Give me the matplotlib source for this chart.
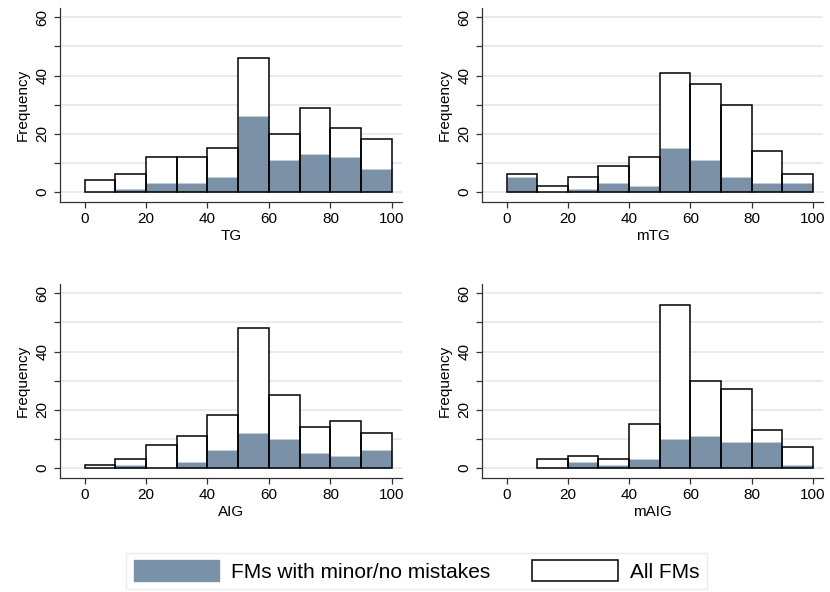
import matplotlib
matplotlib.use("Agg")
import matplotlib.pyplot as plt
import numpy as np
from matplotlib.patches import Patch

plt.rcParams['font.family'] = ['Liberation Sans', 'DejaVu Sans']

bin_left = [0, 10, 20, 30, 40, 50, 60, 70, 80, 90]

panels = ["TG", "mTG", "AIG", "mAIG"]

all_tg = [4, 6, 12, 12, 15, 46, 20, 29, 22, 18]
minor_tg = [0, 1, 3, 3, 5, 26, 11, 13, 12, 8]

all_mtg = [6, 2, 5, 9, 12, 41, 37, 30, 14, 6]
minor_mtg = [5, 0, 1, 3, 2, 15, 11, 5, 3, 3]

all_aig = [1, 3, 8, 11, 18, 48, 25, 14, 16, 12]
minor_aig = [0, 1, 0, 2, 6, 12, 10, 5, 4, 6]

all_maig = [0, 3, 4, 3, 15, 56, 30, 27, 13, 7]
minor_maig = [0, 0, 2, 1, 3, 10, 11, 9, 9, 1]

all_counts = [all_tg, all_mtg, all_aig, all_maig]
minor_counts = [minor_tg, minor_mtg, minor_aig, minor_maig]

fill_col = '#7b91a7'

fig = plt.figure(figsize=(8.3, 5.92), dpi=100)

boxes = [
    [0.0723, 0.6588, 0.412, 0.328],
    [0.5807, 0.6588, 0.411, 0.328],
    [0.0723, 0.1926, 0.412, 0.328],
    [0.5807, 0.1926, 0.411, 0.328],
]


def nonzero(xs, ys):
    # skip empty bins so no flat line is drawn at zero
    pairs = [(x, y) for x, y in zip(xs, ys) if y > 0]
    return [p[0] for p in pairs], [p[1] for p in pairs]


for box, name, tot, sub in zip(boxes, panels, all_counts, minor_counts):
    ax = fig.add_axes(box)
    tx, ty = nonzero(bin_left, tot)
    sx, sy = nonzero(bin_left, sub)
    ax.bar(tx, ty, width=10, align='edge', color='white', linewidth=0, zorder=2)
    ax.bar(sx, sy, width=10, align='edge', color=fill_col,
           edgecolor='#c3ced9', linewidth=0.6, zorder=3)
    ax.bar(tx, ty, width=10, align='edge', fill=False,
           edgecolor='black', linewidth=1.1, zorder=4)

    ax.set_xlim(-8, 103.3)
    ax.set_ylim(-3.5, 63.3)
    ax.set_xticks([0, 20, 40, 60, 80, 100])
    ax.set_yticks(np.arange(0, 61, 10))
    ax.set_yticklabels(['0', '', '20', '', '40', '', '60'], rotation=90, va='center')
    ax.yaxis.grid(True, color='#e6e6e6', linewidth=1.2, zorder=0)
    ax.set_axisbelow(True)
    ax.tick_params(labelsize=11, length=4, color='#333333', width=0.9)
    for s in ['top', 'right']:
        ax.spines[s].set_visible(False)
    for s in ['left', 'bottom']:
        ax.spines[s].set_color('#333333')
        ax.spines[s].set_linewidth(0.9)
    ax.set_xlabel(name, fontsize=11, labelpad=2)
    ax.set_ylabel('Frequency', fontsize=11, labelpad=4)

handles = [
    Patch(facecolor=fill_col, edgecolor=fill_col, label='FMs with minor/no mistakes'),
    Patch(facecolor='white', edgecolor='black', linewidth=1.1, label='All FMs'),
]
fig.legend(handles=handles, loc='center', bbox_to_anchor=(0.502, 0.0355), ncol=2,
           fontsize=15, frameon=True, fancybox=False, edgecolor='#e8e8e8',
           handlelength=4.1, handleheight=1.15, columnspacing=2.0, handletextpad=0.6,
           borderpad=0.35, borderaxespad=0)

fig.savefig('out.png', dpi=100, facecolor='white')
